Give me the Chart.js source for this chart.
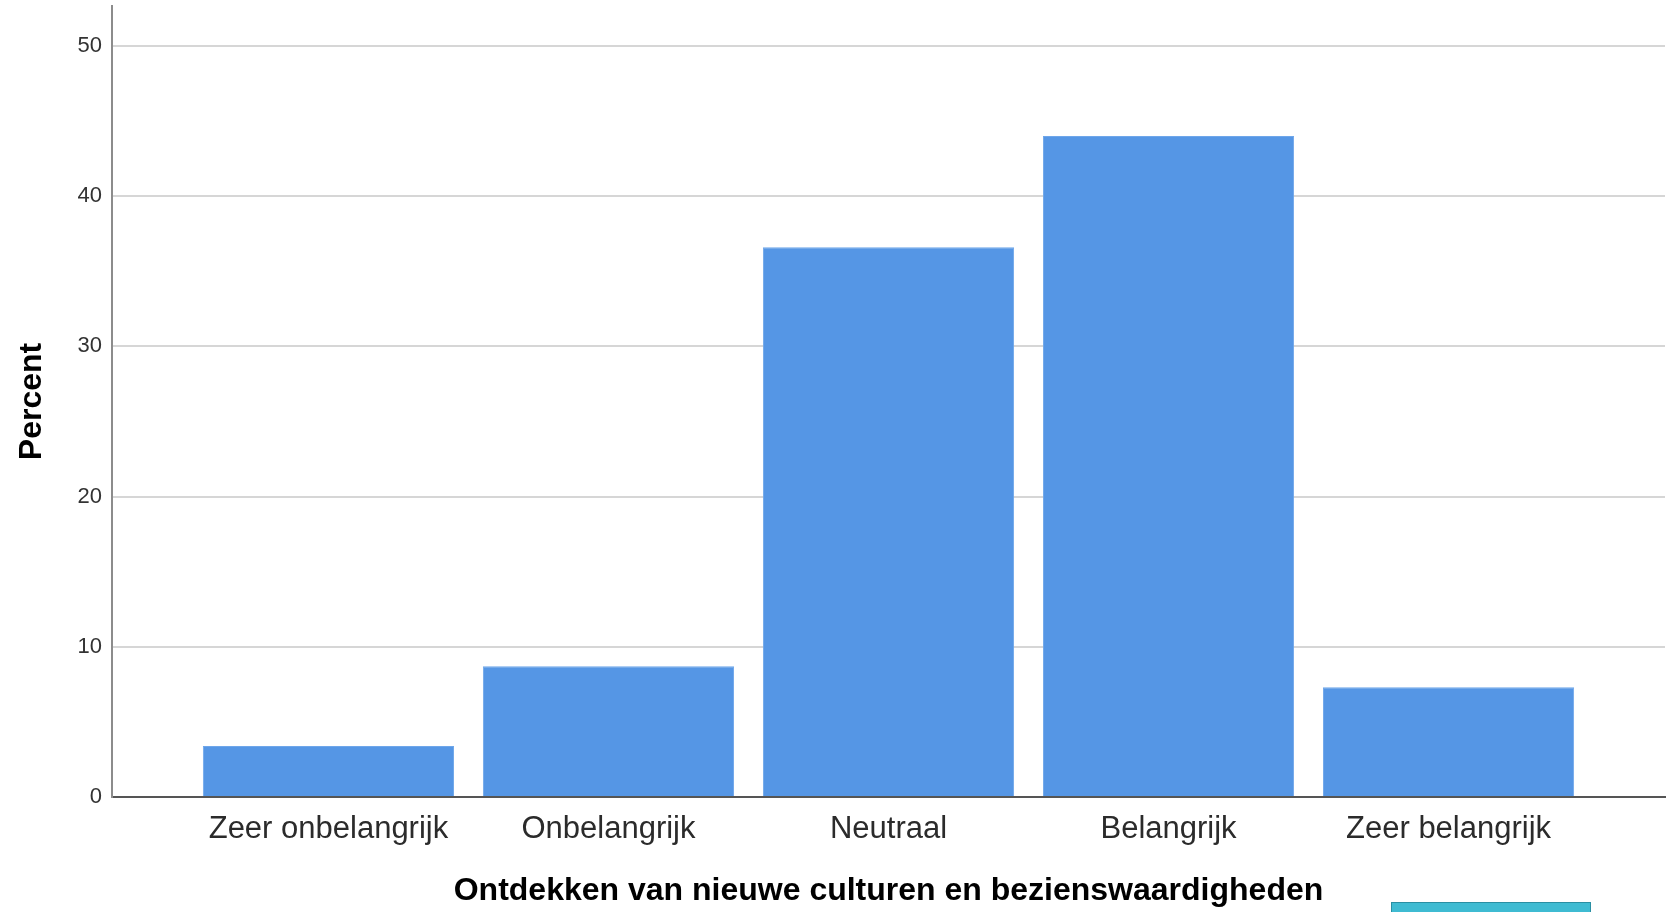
<!DOCTYPE html>
<html>
<head>
<meta charset="utf-8">
<script src="https://cdn.jsdelivr.net/npm/chart.js@4/dist/chart.umd.min.js"></script>
<style>
  html, body { margin: 0; padding: 0; background: #fff; overflow: hidden; }
  #wrap { position: relative; width: 1678px; height: 912px; }
  #marker { position: absolute; left: 1391px; top: 902px; width: 198px; height: 14px;
            background: #3fbbd2; border: 1px solid #2a8fa3; }
</style>
</head>
<body>
<div id="wrap">
  <canvas id="barChart" width="1678" height="912"></canvas>
  <div id="marker"></div>
</div>
<script>
var categories = ['Zeer onbelangrijk', 'Onbelangrijk', 'Neutraal', 'Belangrijk', 'Zeer belangrijk'];
var percents = [3.4, 8.7, 36.6, 44.0, 7.3];
var yTicks = [0, 10, 20, 30, 40, 50];

var points = percents.map(function (v, i) { return { x: i + 1, y: v }; });

var ctx = document.getElementById('barChart');
var chart = new Chart(ctx, {
    type: 'bar',
    data: {
        datasets: [{
            label: 'Percent',
            data: points,
            backgroundColor: '#5596e5',
            borderColor: '#6ea6ea',
            borderWidth: 1,
            categoryPercentage: 1,
            barPercentage: 0.897,
        }]
    },
    options: {
        responsive: false,
        animation: false,
        layout: {
            padding: { top: 6, right: 13, left: 0, bottom: 0 }
        },
        plugins: {
            legend: { display: false },
            tooltip: { enabled: false },
        },
        scales: {
            x: {
                type: 'linear',
                min: 0.227,
                max: 5.773,
                offset: false,
                grid: { display: false, offset: false, drawTicks: false },
                border: { display: true, color: '#555', width: 2 },
                afterBuildTicks: function (axis) {
                    axis.ticks = categories.map(function (c, i) { return { value: i + 1 }; });
                },
                afterFit: function (scale) {
                    scale.height = 115;
                    scale.paddingLeft = 0;
                    scale.paddingRight = 0;
                },
                ticks: {
                    autoSkip: false,
                    maxRotation: 0,
                    padding: 14,
                    color: '#2b2b2b',
                    font: { family: 'Liberation Sans', size: 31 },
                    callback: function (value) { return categories[Math.round(value) - 1]; }
                },
                title: {
                    display: true,
                    text: 'Ontdekken van nieuwe culturen en bezienswaardigheden',
                    color: '#000',
                    font: { family: 'Liberation Sans', size: 32, weight: 'bold' },
                    padding: { top: 0, bottom: 2 }
                }
            },
            y: {
                min: 0,
                max: 52.66,
                grid: { color: '#d6d6d6', lineWidth: 2, drawTicks: false },
                border: { display: true, color: '#8c8c8c', width: 2 },
                afterBuildTicks: function (axis) {
                    axis.ticks = yTicks.map(function (t) { return { value: t }; });
                },
                afterFit: function (scale) {
                    scale.width = 112;
                    scale.paddingTop = 0;
                    scale.paddingBottom = 0;
                },
                ticks: {
                    padding: 10,
                    color: '#333',
                    font: { family: 'Liberation Sans', size: 22 }
                },
                title: {
                    display: true,
                    text: 'Percent',
                    color: '#000',
                    font: { family: 'Liberation Sans', size: 32, weight: 'bold' },
                    padding: { top: 13, bottom: 0 }
                }
            }
        }
    }
});
</script>
</body>
</html>
